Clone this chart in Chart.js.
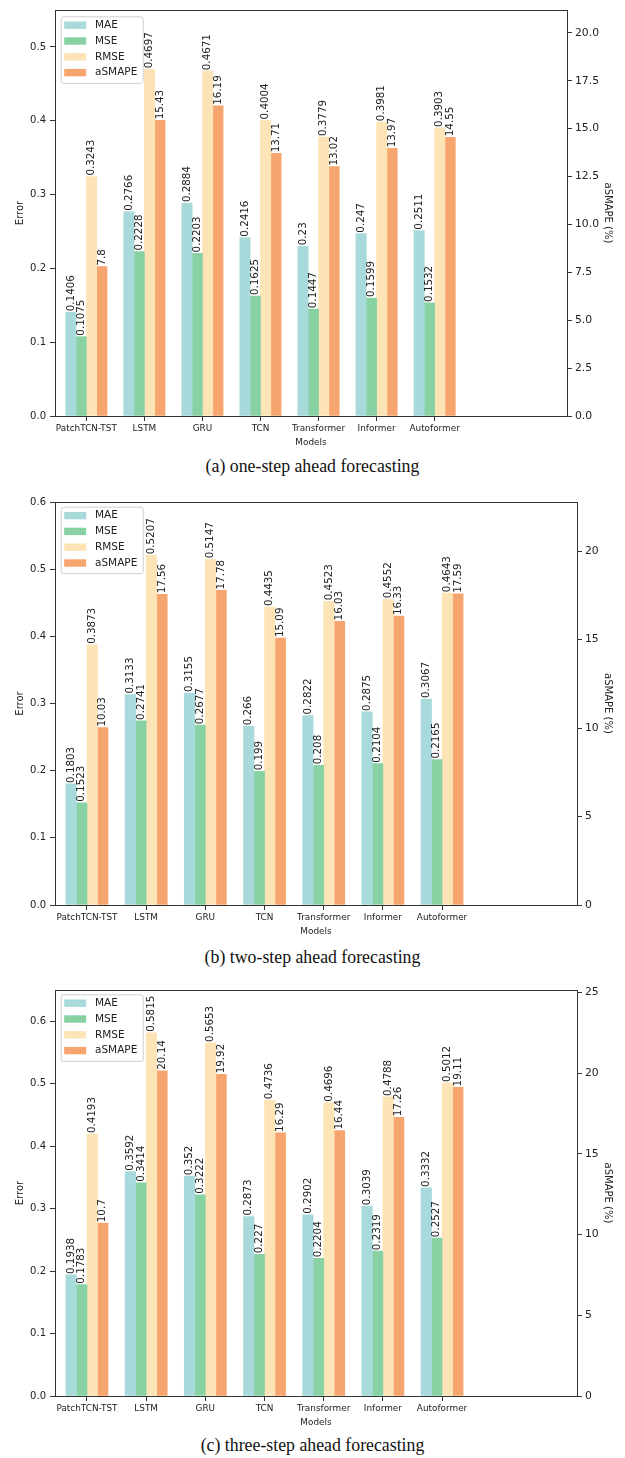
<!DOCTYPE html>
<html>

<head>
  <meta charset="utf-8">
  <title>Forecasting errors by model</title>
  <style>
    body { margin: 0; background: #fff; }
    #page { position: relative; width: 625px; height: 1458px; overflow: hidden; }
    canvas { position: absolute; left: 0; }
    .caption {
      position: absolute; left: 0; width: 625px; text-align: center;
      font-family: "Liberation Serif", "Times New Roman", serif;
      font-size: 17.8px; line-height: 20px; color: #111;
    }
  </style>
</head>

<body>
  <div id="page">
    <canvas id="chartOne" width="625" height="452" style="top:0px"></canvas>
    <canvas id="chartTwo" width="625" height="451" style="top:490px"></canvas>
    <canvas id="chartThree" width="625" height="454" style="top:978px"></canvas>
    <div class="caption" style="top:456px">(a) one-step ahead forecasting</div>
    <div class="caption" style="top:947px">(b) two-step ahead forecasting</div>
    <div class="caption" style="top:1435px">(c) three-step ahead forecasting</div>
  </div>
</body>

<script src="https://cdn.jsdelivr.net/npm/chart.js@4"></script>
<script>
    const models = ['PatchTCN-TST', 'LSTM', 'GRU', 'TCN', 'Transformer', 'Informer', 'Autoformer'];
    const metricNames = ['MAE', 'MSE', 'RMSE', 'aSMAPE'];
    const metricColors = ['#a8dadc', '#88d1a3', '#fde4b7', '#f7a56e'];

    // one-step ahead
    const maeOne = [0.1406, 0.2766, 0.2884, 0.2416, 0.23, 0.247, 0.2511];
    const mseOne = [0.1075, 0.2228, 0.2203, 0.1625, 0.1447, 0.1599, 0.1532];
    const rmseOne = [0.3243, 0.4697, 0.4671, 0.4004, 0.3779, 0.3981, 0.3903];
    const asmapeOne = [7.8, 15.43, 16.19, 13.71, 13.02, 13.97, 14.55];
    const errorTicksOne = [0, 0.1, 0.2, 0.3, 0.4, 0.5];
    const asmapeTicksOne = [0, 2.5, 5, 7.5, 10, 12.5, 15, 17.5, 20];

    // two-step ahead
    const maeTwo = [0.1803, 0.3133, 0.3155, 0.266, 0.2822, 0.2875, 0.3067];
    const mseTwo = [0.1523, 0.2741, 0.2677, 0.199, 0.208, 0.2104, 0.2165];
    const rmseTwo = [0.3873, 0.5207, 0.5147, 0.4435, 0.4523, 0.4552, 0.4643];
    const asmapeTwo = [10.03, 17.56, 17.78, 15.09, 16.03, 16.33, 17.59];
    const errorTicksTwo = [0, 0.1, 0.2, 0.3, 0.4, 0.5, 0.6];
    const asmapeTicksTwo = [0, 5, 10, 15, 20];

    // three-step ahead
    const maeThree = [0.1938, 0.3592, 0.352, 0.2873, 0.2902, 0.3039, 0.3332];
    const mseThree = [0.1783, 0.3414, 0.3222, 0.227, 0.2204, 0.2319, 0.2527];
    const rmseThree = [0.4193, 0.5815, 0.5653, 0.4736, 0.4696, 0.4788, 0.5012];
    const asmapeThree = [10.7, 20.14, 19.92, 16.29, 16.44, 17.26, 19.11];
    const errorTicksThree = [0, 0.1, 0.2, 0.3, 0.4, 0.5, 0.6];
    const asmapeTicksThree = [0, 5, 10, 15, 20, 25];

    const BAR_STEP = 0.178;   // bar width / offset inside a group, in x units
    const FONT = 'DejaVu Sans';
    const xFont = { family: FONT, size: 8.9 };
    const yFont = { family: FONT, size: 10 };
    const y2Font = { family: FONT, size: 10.8 };
    const ink = '#222';

    Chart.defaults.font.family = FONT;

    // frame, value labels and the legend box
    const panelDecor = {
        id: 'panelDecor',
        afterDatasetsDraw(chart) {
            const ctx = chart.ctx;
            const area = chart.chartArea;
            ctx.save();

            ctx.font = '10.3px "' + FONT + '"';
            ctx.fillStyle = ink;
            ctx.textAlign = 'left';
            ctx.textBaseline = 'middle';
            chart.data.datasets.forEach((ds, j) => {
                chart.getDatasetMeta(j).data.forEach((bar, i) => {
                    ctx.save();
                    ctx.translate(bar.x, bar.y - 1);
                    ctx.rotate(-Math.PI / 2);
                    ctx.fillText(String(ds.data[i].y), 0, 0);
                    ctx.restore();
                });
            });

            ctx.strokeStyle = '#333';
            ctx.lineWidth = 1;
            ctx.strokeRect(Math.round(area.left) + 0.5, Math.round(area.top) + 0.5,
                Math.round(area.right) - Math.round(area.left), Math.round(area.bottom) - Math.round(area.top));

            const bx = area.left + 5.7;
            const by = area.top + chart.options.plugins.panelDecor.legendTop;
            ctx.beginPath();
            ctx.roundRect(bx + 0.5, by + 0.5, 82, 66.5, 2.5);
            ctx.fillStyle = 'rgba(255,255,255,0.8)';
            ctx.fill();
            ctx.strokeStyle = '#cfcfcf';
            ctx.stroke();
            ctx.font = '10.5px "' + FONT + '"';
            chart.data.datasets.forEach((ds, j) => {
                const cy = by + 8.9 + j * 15.8;
                ctx.fillStyle = ds.backgroundColor;
                ctx.fillRect(bx + 3.5, cy - 3.7, 22, 7.4);
                ctx.fillStyle = ink;
                ctx.fillText(ds.label, bx + 34.3, cy);
            });
            ctx.restore();
        }
    };

    function buildPanel(canvasId, series, cfg) {
        const datasets = metricNames.map((name, j) => ({
            label: name,
            data: series[j].map((v, i) => ({ x: i + (j - 1.5) * BAR_STEP, y: v })),
            backgroundColor: metricColors[j],
            yAxisID: j === 3 ? 'y2' : 'y',
            grouped: false,
            categoryPercentage: 1,
            barPercentage: 1
        }));
        const tickGrid = { drawOnChartArea: false, drawTicks: true, tickLength: 5, tickColor: '#333', tickWidth: 1, offset: false };

        new Chart(document.getElementById(canvasId), {
            type: 'bar',
            data: { datasets: datasets },
            options: {
                responsive: false,
                animation: false,
                events: [],
                layout: { padding: { top: cfg.padTop, left: 0, right: 0, bottom: 0 } },
                plugins: {
                    legend: { display: false },
                    tooltip: { enabled: false },
                    panelDecor: { legendTop: cfg.legendTop }
                },
                scales: {
                    x: {
                        type: 'linear',
                        offset: false,
                        min: -0.54,
                        max: 8.28,
                        afterBuildTicks: (s) => { s.ticks = models.map((m, i) => ({ value: i })); },
                        afterFit: (s) => { s.height = 36; },
                        grid: tickGrid,
                        border: { display: false },
                        ticks: {
                            autoSkip: false, maxRotation: 0, minRotation: 0, padding: 2.5,
                            color: ink, font: xFont,
                            callback: (v) => models[v]
                        },
                        title: { display: true, text: 'Models', color: ink, font: xFont, padding: { top: 0, bottom: 3.7 } }
                    },
                    y: {
                        position: 'left',
                        min: 0,
                        max: cfg.errorMax,
                        afterBuildTicks: (s) => { s.ticks = cfg.errorTicks.map((v) => ({ value: v })); },
                        afterFit: (s) => { s.width = 55; },
                        grid: tickGrid,
                        border: { display: false },
                        ticks: { padding: 4, color: ink, font: yFont, callback: (v) => v.toFixed(1) },
                        title: { display: true, text: 'Error', color: ink, font: yFont, padding: { top: 14, bottom: 0 } }
                    },
                    y2: {
                        position: 'right',
                        min: 0,
                        max: cfg.asmapeMax,
                        afterBuildTicks: (s) => { s.ticks = cfg.asmapeTicks.map((v) => ({ value: v })); },
                        afterFit: (s) => { s.width = cfg.rightWidth; },
                        grid: tickGrid,
                        border: { display: false },
                        ticks: { padding: 3, color: ink, font: y2Font, callback: (v) => v.toFixed(cfg.asmapeDigits) },
                        title: { display: true, text: 'aSMAPE (%)', color: ink, font: yFont, padding: { top: 11, bottom: 0 } }
                    }
                }
            },
            plugins: [panelDecor]
        });
    }

    buildPanel('chartOne', [maeOne, mseOne, rmseOne, asmapeOne], {
        padTop: 6, legendTop: 6.3, errorMax: 0.55, errorTicks: errorTicksOne,
        asmapeMax: 21.19, asmapeTicks: asmapeTicksOne, asmapeDigits: 1, rightWidth: 58
    });
    buildPanel('chartTwo', [maeTwo, mseTwo, rmseTwo, asmapeTwo], {
        padTop: 12, legendTop: 4.7, errorMax: 0.6, errorTicks: errorTicksTwo,
        asmapeMax: 22.78, asmapeTicks: asmapeTicksTwo, asmapeDigits: 0, rightWidth: 48
    });
    buildPanel('chartThree', [maeThree, mseThree, rmseThree, asmapeThree], {
        padTop: 12, legendTop: 4.3, errorMax: 0.65, errorTicks: errorTicksThree,
        asmapeMax: 25.14, asmapeTicks: asmapeTicksThree, asmapeDigits: 0, rightWidth: 48
    });
</script>

</html>
